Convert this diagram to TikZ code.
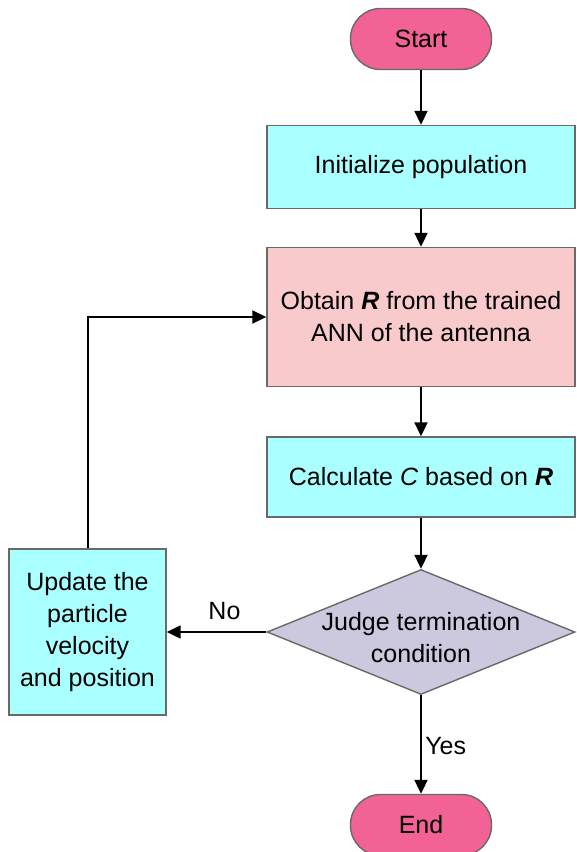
\documentclass[tikz,border=0pt]{standalone}
\usepackage{fontspec}
\setmainfont{Liberation Sans}
\usetikzlibrary{shapes.geometric,arrows.meta}

\definecolor{termpink}{RGB}{242,98,150}
\definecolor{proccyan}{RGB}{170,255,255}
\definecolor{obtainpink}{RGB}{248,202,204}
\definecolor{judgegray}{RGB}{204,200,222}
\definecolor{linegray}{RGB}{105,105,105}

\begin{document}
\begin{tikzpicture}[x=1pt, y=-1pt, font=\fontsize{25}{32}\selectfont,
  term/.style={draw=linegray, fill=termpink, rounded corners=30pt, minimum width=141pt, minimum height=61pt, line width=1.4pt},
  proc/.style={draw=linegray, fill=proccyan, minimum width=308pt, align=center, line width=1.4pt},
  decision/.style={diamond, draw=linegray, fill=judgegray, minimum width=308pt, minimum height=125pt, inner sep=0pt, line width=1.4pt}]

\useasboundingbox (0,0) rectangle (577,852);

\node[term] (start) at (421,39) {Start};
\node[proc, minimum height=83pt] (init) at (421,167) {Initialize population};
\node[proc, fill=obtainpink, minimum height=139pt] (obtain) at (421,317) {Obtain \textbf{\textit{R}} from the trained\\ANN of the antenna};
\node[proc, minimum height=80pt] (calc) at (421,477) {Calculate \textit{C} based on \textbf{\textit{R}}};
\node[decision, label={[align=center, yshift=-6pt]center:Judge termination\\condition}] (judge) at (421,632) {};
\node[proc, minimum width=157pt, minimum height=166pt] (update) at (87.5,632) {Update the\\particle\\velocity\\and position};
\node[term] (stop) at (421,825) {End};

\begin{scope}[-{Triangle[length=14pt,width=13pt]}, line width=2pt]
\foreach \a/\b in {start/init, init/obtain, obtain/calc, calc/judge}
	\draw (\a.south)--(\b.north);
\draw (judge.south)--node[right, yshift=-2pt]{Yes} (stop.north);
\draw (judge.west)--node[above, pos=0.42, yshift=8pt]{No} (update.east);
\draw (update.north) |- (obtain.west);
\end{scope}

\end{tikzpicture}
\end{document}
